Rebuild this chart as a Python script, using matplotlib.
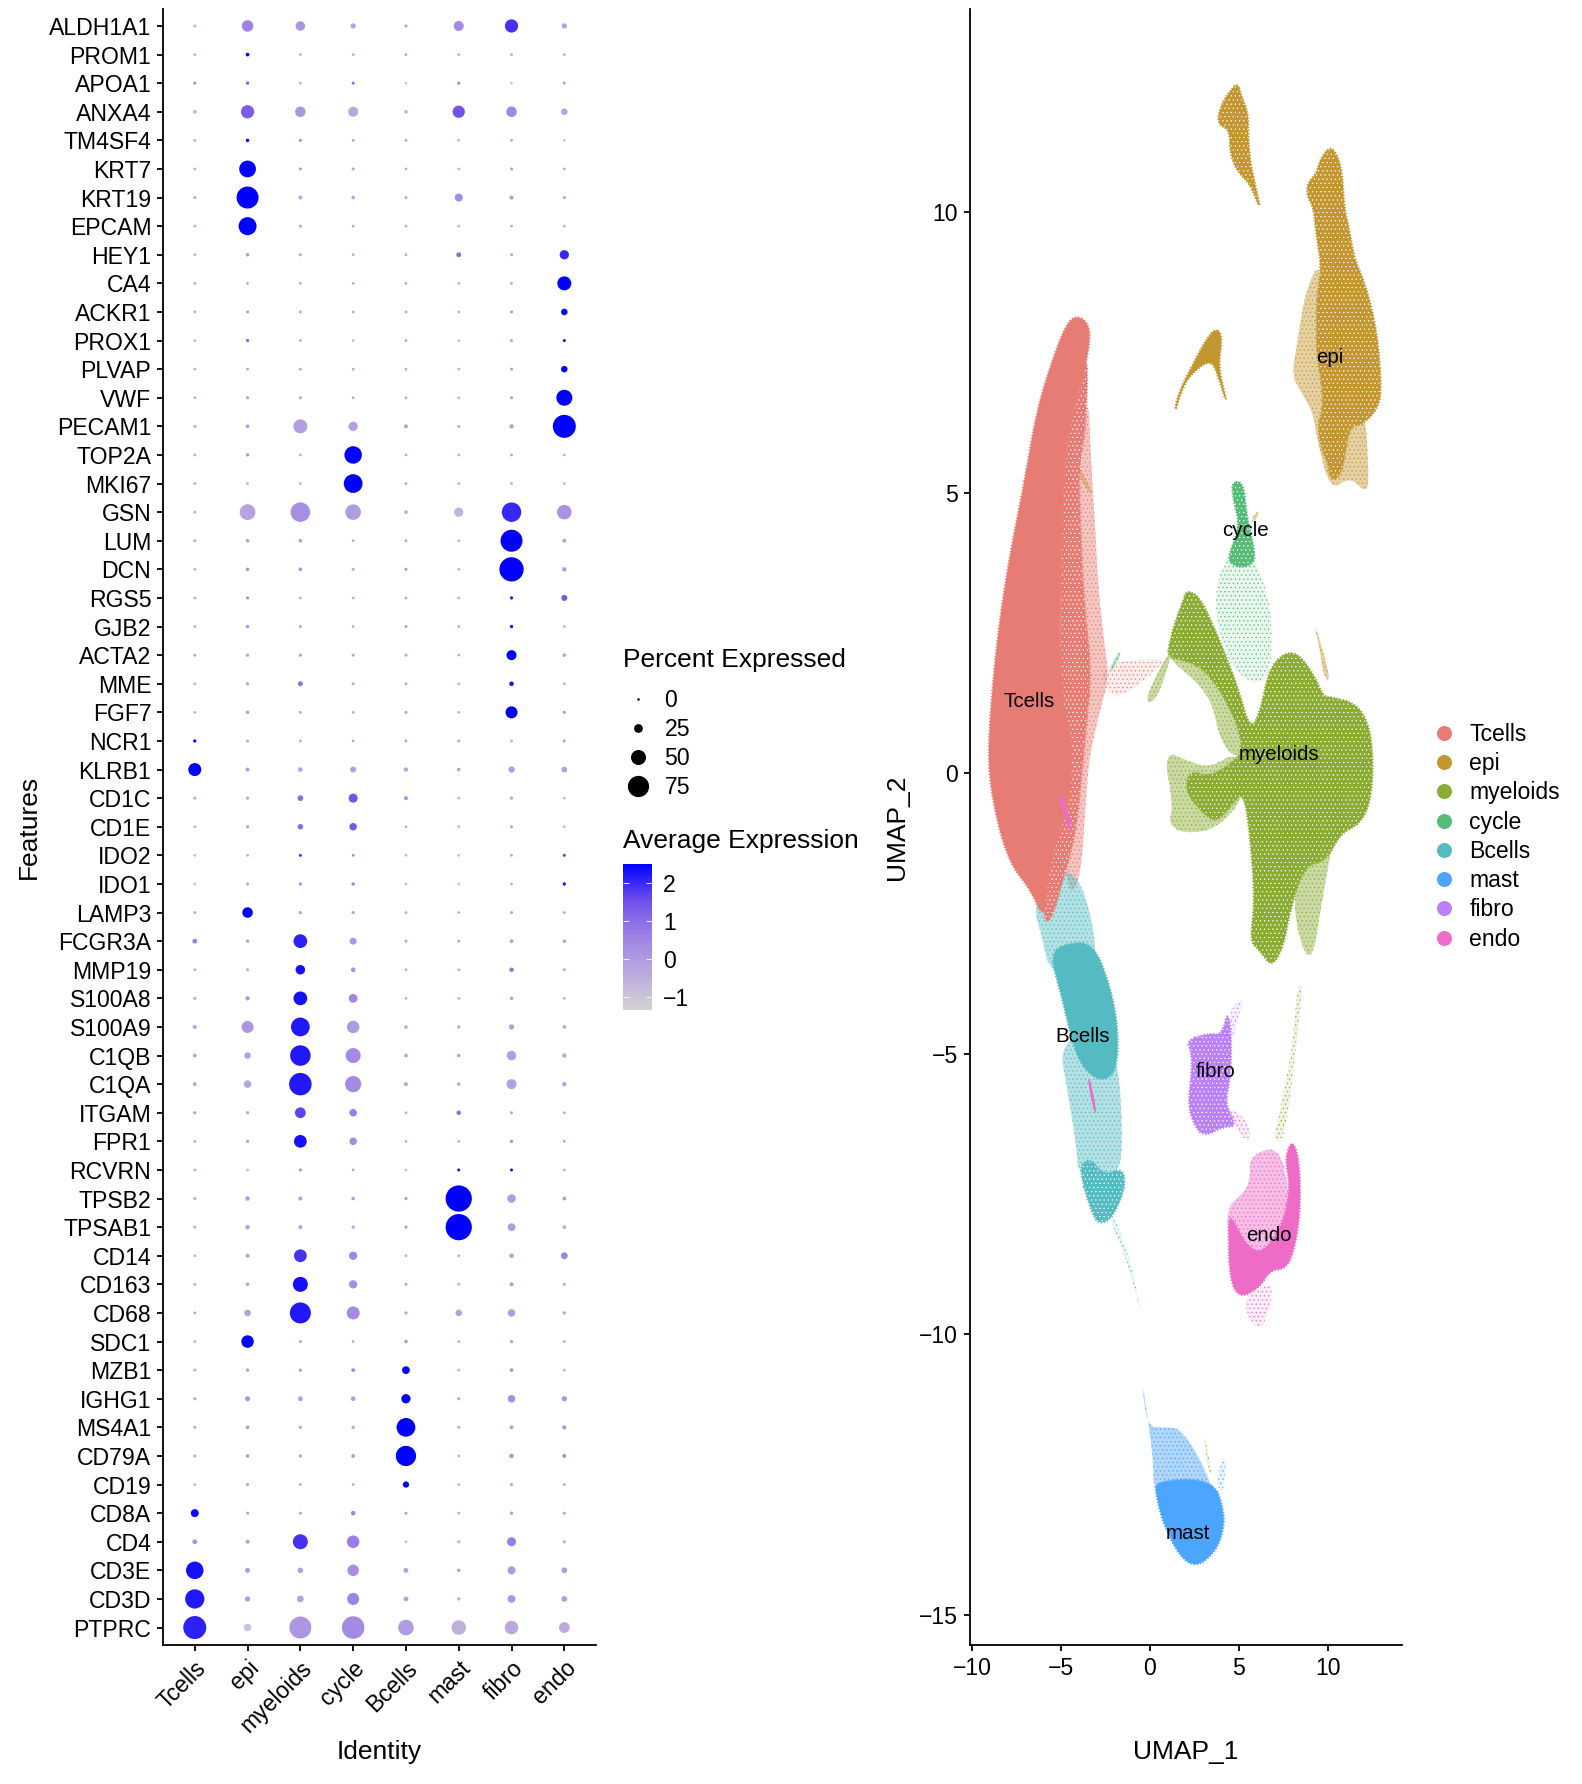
# Dot plot of marker genes per cell type next to the UMAP of the same clusters

import numpy as np
from matplotlib import pyplot as plt
from matplotlib.colors import LinearSegmentedColormap, Normalize
from matplotlib.cm import ScalarMappable
from matplotlib.lines import Line2D
from matplotlib.patches import Polygon

plt.rcParams['font.family'] = ['Liberation Sans', 'DejaVu Sans']
plt.rcParams['hatch.linewidth'] = 0.4

clusters = ['Tcells', 'epi', 'myeloids', 'cycle', 'Bcells', 'mast', 'fibro', 'endo']
clusterColors = ['#E67C73', '#C4962F', '#8AAC33', '#54BC77', '#55BBC2', '#4CA5FF', '#BB81F8', '#EE6BC8']

genes = ['ALDH1A1', 'PROM1', 'APOA1', 'ANXA4', 'TM4SF4', 'KRT7', 'KRT19', 'EPCAM', 'HEY1', 'CA4',
         'ACKR1', 'PROX1', 'PLVAP', 'VWF', 'PECAM1', 'TOP2A', 'MKI67', 'GSN', 'LUM', 'DCN',
         'RGS5', 'GJB2', 'ACTA2', 'MME', 'FGF7', 'NCR1', 'KLRB1', 'CD1C', 'CD1E', 'IDO2',
         'IDO1', 'LAMP3', 'FCGR3A', 'MMP19', 'S100A8', 'S100A9', 'C1QB', 'C1QA', 'ITGAM', 'FPR1',
         'RCVRN', 'TPSB2', 'TPSAB1', 'CD14', 'CD163', 'CD68', 'SDC1', 'MZB1', 'IGHG1', 'MS4A1',
         'CD79A', 'CD19', 'CD8A', 'CD4', 'CD3E', 'CD3D', 'PTPRC']

# Percent of cells expressing, one row per gene, columns in the order of clusters
pctExpressed = [
    [2, 36, 28, 11, 3, 30, 43, 11],
    [1, 5, 1, 1, 1, 1, 1, 1],
    [2, 3, 1, 2, 0.5, 2, 0.5, 1],
    [6, 43, 32, 30, 5, 39, 32, 16],
    [1, 4, 2, 1, 1, 1, 1, 0.5],
    [1, 57, 2, 2, 1, 1, 2, 1],
    [2, 78, 5, 4, 2, 22, 6, 3],
    [1, 62, 2, 1, 1, 1, 1, 1],
    [1, 4, 2, 1, 1, 9, 2, 27],
    [1, 1, 1, 1, 1, 1, 1, 46],
    [1, 2, 1, 1, 1, 1, 2, 16],
    [0.5, 3, 1, 0.5, 1, 0.5, 1, 2],
    [1, 1, 1, 1, 1, 1, 2, 16],
    [1, 2, 2, 1, 1, 1, 2, 54],
    [2, 5, 46, 27, 6, 2, 7, 82],
    [1, 3, 1, 60, 1, 1, 1, 1],
    [1, 1, 1, 65, 1, 1, 1, 0.5],
    [2, 53, 68, 52, 5, 27, 68, 48],
    [2, 4, 4, 1, 2, 1, 78, 5],
    [1, 4, 5, 2, 3, 1, 87, 7],
    [1, 2, 1, 1, 1, 1, 3, 14],
    [1, 4, 2, 1, 2, 1, 3, 1],
    [2, 3, 3, 2, 2, 1, 30, 4],
    [1, 3, 10, 2, 1, 1, 8, 1],
    [1, 4, 2, 1, 2, 1, 38, 3],
    [3, 2, 1, 1, 2, 2, 1, 2],
    [42, 6, 8, 14, 7, 4, 15, 13],
    [2, 3, 13, 26, 6, 1, 3, 1],
    [1, 3, 12, 20, 1, 1, 2, 1],
    [0.5, 1, 2, 1, 0.5, 0.5, 1, 2],
    [0.5, 2, 3, 4, 0.5, 0.5, 1, 3],
    [2, 32, 3, 3, 1, 1, 2, 1],
    [9, 4, 45, 18, 2, 2, 5, 4],
    [1, 2, 28, 8, 1, 1, 8, 2],
    [2, 7, 45, 25, 1, 1, 4, 1],
    [6, 38, 65, 40, 4, 3, 11, 4],
    [5, 16, 72, 50, 5, 4, 28, 7],
    [5, 20, 80, 55, 6, 4, 30, 7],
    [3, 3, 33, 20, 1, 8, 2, 1],
    [1, 3, 41, 20, 1, 1, 4, 1],
    [1, 0.5, 2, 1, 0.5, 2, 2, 1],
    [2, 8, 6, 4, 3, 95, 24, 5],
    [2, 7, 6, 3, 3, 95, 21, 4],
    [1, 6, 41, 23, 1, 1, 8, 17],
    [1, 4, 50, 23, 2, 1, 6, 2],
    [2, 16, 74, 42, 3, 16, 20, 3],
    [1, 40, 2, 1, 4, 1, 3, 1],
    [2, 3, 3, 5, 21, 1, 5, 1],
    [3, 10, 9, 9, 27, 3, 20, 11],
    [2, 4, 3, 3, 65, 2, 5, 6],
    [2, 4, 3, 5, 71, 1, 8, 6],
    [1, 2, 1, 1, 15, 1, 2, 1],
    [22, 2, 2, 8, 2, 1, 3, 2],
    [9, 6, 50, 40, 1, 2, 26, 3],
    [60, 10, 12, 36, 9, 4, 22, 13],
    [67, 11, 17, 38, 9, 3, 21, 13],
    [82, 20, 78, 80, 52, 48, 44, 33],
]

# Scaled average expression, same layout as pctExpressed
avgExpression = [
    [-.5, .6, .1, -.2, -.3, .4, 1.9, -.1],
    [-.4, 2.4, -.4, -.4, -.3, -.3, -.4, -.4],
    [.5, 1.3, -.5, 1.0, -.9, .6, -.9, .1],
    [-.8, 1.3, .1, -.3, -.7, 1.5, .5, -.2],
    [-.4, 2.4, .3, -.1, -.3, -.5, -.1, -.8],
    [-.3, 2.5, 0, -.1, -.3, -.5, 0, -.3],
    [-.3, 2.5, -.1, -.1, -.4, .4, 0, -.3],
    [-.3, 2.5, -.1, -.2, -.4, -.5, -.2, -.3],
    [-.3, 0, -.2, -.3, -.3, 1.1, -.2, 2.0],
    [-.3, -.2, -.2, -.3, -.3, -.4, -.2, 2.5],
    [-.3, -.1, -.1, -.3, -.3, -.4, 0, 2.5],
    [-.5, 1.1, -.2, -.6, -.2, -.6, .1, 2.4],
    [-.3, -.2, -.2, -.3, -.2, -.4, -.1, 2.5],
    [-.3, -.1, -.2, -.2, -.3, -.4, 0, 2.5],
    [-.2, -.1, -.1, -.1, -.2, -.4, 0, 2.5],
    [-.3, .1, -.4, 2.5, -.3, -.4, -.2, -.4],
    [-.3, -.4, -.4, 2.5, -.3, -.4, -.3, -.5],
    [-.6, -.2, .3, 0, -.5, -.6, 2.0, .2],
    [-.3, 0, 0, -.3, -.3, -.5, 2.5, 0],
    [-.3, .1, .1, -.2, -.1, -.4, 2.5, .1],
    [-.4, .4, -.3, -.3, -.2, -.4, 2.2, 1.4],
    [-.3, .1, -.1, -.3, -.1, -.3, 2.5, -.3],
    [-.1, -.1, -.1, -.1, -.2, -.4, 2.5, -.1],
    [-.4, -.1, .9, -.2, -.3, -.4, 2.3, -.3],
    [-.4, -.1, -.4, -.4, -.2, -.4, 2.5, -.1],
    [2.4, -.3, -.3, -.2, -.3, -.3, -.3, -.1],
    [2.5, -.1, -.1, -.1, -.1, -.1, 0, -.1],
    [-.4, -.3, 1.0, 1.5, .3, -.4, -.3, -.5],
    [-.4, -.2, 1.0, 1.4, -.4, -.5, -.2, -.5],
    [-.6, -.3, 1.9, .6, -.6, -.5, -.1, 1.7],
    [-.6, -.3, .2, .3, -.6, -.8, -.3, 2.3],
    [-.4, 2.5, -.1, -.2, -.4, -.4, -.1, -.3],
    [.7, -.3, 2.1, .1, -.3, -.3, -.1, -.1],
    [-.3, -.3, 2.3, .3, -.4, -.4, .8, -.3],
    [-.2, .1, 2.3, .5, -.4, -.4, -.2, -.3],
    [-.2, .1, 2.2, 0, -.2, -.3, -.1, -.1],
    [-.2, -.2, 2.2, .4, -.2, -.2, -.1, -.2],
    [-.2, -.3, 2.2, .4, -.3, -.2, -.1, -.2],
    [-.2, -.3, 1.7, .7, -.3, .9, -.2, -.3],
    [-.3, -.1, 2.3, .4, -.4, -.4, .1, -.2],
    [-.3, -.7, .3, -.2, -.7, 2.3, 2.3, -.4],
    [-.3, 0, -.1, -.1, -.1, 2.5, 0, 0],
    [-.3, 0, -.1, -.2, -.1, 2.5, 0, -.1],
    [-.5, -.2, 1.9, .5, -.5, -.4, -.1, .6],
    [-.3, -.1, 2.3, .3, -.2, -.4, 0, -.3],
    [-.3, -.1, 2.2, .4, -.2, -.1, 0, -.2],
    [-.3, 2.5, -.2, -.3, .1, -.3, -.1, -.3],
    [-.2, 0, 0, .5, 2.5, -.3, .2, -.3],
    [-.3, .1, 0, -.1, 2.5, -.2, .3, .1],
    [-.2, .1, -.2, -.2, 2.5, -.3, 0, .2],
    [-.2, .1, 0, 0, 2.5, -.4, .1, .3],
    [-.6, -.1, -.2, -.2, 2.5, -.3, -.2, -.2],
    [2.4, -.2, -.2, .6, -.2, -.3, 0, -.1],
    [.3, -.1, 1.9, .7, -.7, -.4, .7, -.4],
    [2.3, 0, -.1, .3, -.1, -.2, 0, 0],
    [2.2, 0, -.2, .6, -.1, -.2, .1, 0],
    [2.1, -.9, .1, .4, 0, -.5, -.3, -.4],
]

legendPcts = [0, 25, 50, 75]
colorTicks = [-1, 0, 1, 2]

# UMAP outlines, (UMAP_1, UMAP_2)
tcellsCore = [(-4.12, 8.16), (-3.4, 8.0), (-3.4, 7.6), (-3.9, 6.9), (-4.6, 6.1), (-4.9, 5.0), (-5.0, 3.5),
              (-5.1, 2.2), (-4.9, 1.3), (-4.4, .6), (-4.4, -.2), (-4.9, -.9), (-5.5, -1.4), (-5.9, -2.4),
              (-6.08, -2.52), (-6.74, -2.07), (-7.68, -1.69), (-8.24, -1.25), (-8.61, -.8), (-8.99, -.16),
              (-9.08, .53), (-8.8, 1.72), (-8.42, 2.78), (-7.86, 3.91), (-7.11, 5.1), (-6.36, 6.47),
              (-5.43, 7.42), (-4.68, 8.01)]
tcellsMid = [(-3.5, 7.5), (-3.6, 6.2), (-4.0, 5.4), (-3.9, 4.2), (-3.7, 3.0), (-3.3, 1.8), (-3.6, .8),
             (-3.9, -.2), (-4.2, -1.1), (-4.8, -1.8), (-5.6, -2.7), (-6.1, -2.5), (-5.1, 1.3), (-5.0, 3.5),
             (-4.9, 5.0), (-4.6, 6.1), (-3.9, 6.9)]
tcellsSparse = [(-3.5, 7.0), (-3.3, 5.5), (-3.1, 4.5), (-2.9, 3.3), (-2.6, 2.4), (-2.3, 1.7), (-2.9, 1.0),
                (-3.4, .3), (-3.6, -.5), (-3.9, -1.9), (-4.6, -2.2), (-4.9, -1.0), (-4.0, 1.0), (-4.2, 4.0)]
tcellsBridge = [(-2.8, 1.95), (.75, 2.07), (.57, 1.89), (-1.5, 1.36), (-2.43, 1.42)]

epiCore = [(10.11, 11.18), (10.58, 10.99), (10.82, 10.63), (10.90, 10.10), (11.24, 9.62), (11.46, 9.20),
           (11.99, 8.79), (12.45, 8.31), (12.83, 7.66), (13.01, 6.77), (12.73, 6.47), (11.99, 6.23),
           (11.24, 6.17), (11.05, 5.88), (10.77, 5.34), (10.21, 5.19), (9.93, 5.58), (9.55, 5.88),
           (9.46, 6.23), (9.74, 6.53), (9.64, 7.0), (9.36, 7.48), (9.36, 8.43), (9.64, 9.03), (9.36, 9.56),
           (9.18, 10.10), (8.84, 10.27), (8.84, 10.51), (9.36, 10.69), (9.55, 10.93)]
epiSparse = [(9.6, 9.2), (8.71, 8.55), (8.33, 7.78), (7.96, 7.09), (8.43, 6.83), (9.18, 6.41), (9.36, 5.99),
             (10.11, 5.03), (11.24, 5.28), (12.08, 5.01), (12.32, 5.17), (12.1, 6.5), (11.24, 6.5), (10.0, 7.5)]
epiTop = [(4.91, 12.31), (5.15, 12.06), (5.52, 11.76), (5.52, 11.34), (5.62, 10.93), (5.81, 10.63), (6.27, 9.98),
          (5.62, 10.51), (4.91, 10.72), (4.49, 11.05), (4.49, 11.46), (3.75, 11.58), (4.03, 11.94), (4.49, 12.15)]
epiArc = [(3.65, 7.93), (4.08, 7.81), (3.84, 7.24), (4.21, 6.77), (4.27, 6.62), (3.84, 7.07), (3.46, 7.36),
          (2.62, 7.21), (1.87, 6.92), (1.35, 6.38), (1.59, 6.77), (2.43, 7.30), (3.09, 7.69)]
epiSliver = [(9.18, 2.72), (9.84, 2.07), (10.12, 1.62), (9.74, 1.74), (9.55, 2.19)]
epiFleckCycle = [(5.72, 4.54), (6.09, 4.69), (6.09, 4.6), (5.8, 4.45)]
epiFleckT = [(-4.3, 5.64), (-3.27, 5.04), (-3.35, 4.95), (-4.35, 5.5)]

myeloidsCore = [(1.88, 3.08), (2.06, 3.26), (2.81, 3.14), (3.75, 2.49), (4.87, 1.6), (5.62, .77), (6.18, 1.06),
                (6.75, 1.94), (8.06, 2.22), (9.18, 1.78), (9.74, 1.36), (10.12, 1.36), (11.61, 1.24),
                (12.36, .82), (12.55, .11), (12.36, -.54), (11.8, -.9), (10.68, -1.08), (9.93, -1.55),
                (8.62, -1.67), (7.87, -2.45), (7.49, -3.1), (6.84, -3.46), (6.18, -3.16), (5.62, -3.0),
                (5.9, -2.27), (5.62, -1.08), (5.25, -.31), (4.5, -.6), (3.75, -.87), (3.0, -.72), (1.97, -.31),
                (2.25, .05), (3.37, -.07), (4.87, .23), (5.25, .53), (4.5, 1.18), (3.19, 1.83), (1.97, 2.01),
                (.94, 2.07), (1.31, 2.6)]
myeloidsWing = [(.75, .41), (1.31, -.6), (1.03, -.9), (1.88, -1.08), (3.75, -1.0), (5.4, -.4), (5.0, .4),
                (3.37, .1), (2.25, .2)]
myeloidsBand = [(1.0, 2.3), (.94, 2.07), (3.37, 1.42), (3.94, .58), (4.87, .23), (5.4, .6), (4.8, 1.5), (3.3, 2.2)]
myeloidsArm = [(-.37, 1.24), (.75, 2.01), (1.31, 2.2), (.4, 1.3)]
myeloidsLower = [(7.87, -2.3), (9.0, -3.57), (9.74, -2.15), (10.5, -.8), (9, -.8)]
myeloidsFiber = [(8.61, -3.69), (8.24, -4.76), (7.87, -5.83), (7.49, -6.54), (6.93, -6.54), (7.4, -5.89),
                 (8.05, -4.76), (8.24, -3.87)]
myeloidsMast = [(2.99, -11.63), (3.56, -12.6), (3.2, -12.4)]

cycleCore = [(4.59, 5.19), (5.25, 5.19), (5.43, 4.57), (6.0, 3.8), (5.43, 3.68), (4.87, 3.68), (4.31, 3.8),
             (5.06, 4.39), (4.69, 4.87)]
cycleSparse = [(4.9, 4.2), (3.4, 3.2), (4.5, 1.8), (6.75, 1.5), (6.9, 3.0), (5.6, 4.0)]
cycleFleck = [(-2.24, 1.89), (-1.68, 2.19), (-1.65, 2.1), (-2.15, 1.8)]

bcellsCore = [(-5.62, -3.22), (-4.68, -3.03), (-3.18, -3.03), (-2.24, -3.79), (-1.78, -4.56), (-1.87, -5.32),
              (-2.81, -5.51), (-3.93, -5.19), (-4.49, -4.62), (-4.96, -3.98)]
bcellsUpper = [(-6.55, -2.39), (-5.62, -1.76), (-4.12, -1.76), (-3.18, -2.65), (-3.0, -3.6), (-5.6, -3.6),
               (-6.08, -2.9)]
bcellsMiddle = [(-5.05, -4.94), (-4.68, -5.57), (-4.12, -6.66), (-4.02, -7.2), (-1.87, -7.2), (-1.5, -6.66),
                (-1.8, -5.0), (-2.8, -5.0), (-3.9, -4.6)]
bcellsBottom = [(-4.02, -7.04), (-3.18, -7.93), (-2.71, -8.03), (-2.15, -7.93), (-1.4, -7.42), (-1.5, -7.04),
                (-2.62, -7.17), (-3.37, -6.85)]
bcellsTail = [(-2.3, -7.9), (-1.3, -8.7), (-.6, -9.5), (-.5, -9.6), (-1.1, -8.7), (-2.0, -7.9)]

mastCore = [(.28, -12.61), (3.56, -12.58), (4.21, -13.2), (4.03, -13.62), (3.56, -13.91), (2.62, -14.15),
            (1.68, -13.97), (.75, -13.38), (.37, -12.9)]
mastSparse = [(-.47, -10.76), (.19, -12.19), (.2, -12.9), (3.7, -12.9), (2.8, -12.2), (1.68, -11.68),
              (.94, -11.66), (0, -11.66), (-.28, -11.36)]
mastEdge = [(4.31, -12.07), (4.12, -12.9), (3.65, -12.61)]

fibroCore = [(2.06, -4.76), (3.28, -4.64), (4.03, -4.67), (4.4, -4.22), (4.59, -4.82), (4.49, -5.47), (4.21, -5.89),
             (4.87, -6.3), (4.12, -6.3), (3.0, -6.48), (2.43, -6.24), (2.15, -5.89), (2.34, -5.35), (2.34, -5.0)]
fibroStreak = [(4.4, -4.22), (5.34, -3.99), (4.96, -4.34), (4.59, -4.82)]

endoCore = [(8.05, -6.51), (8.43, -7.02), (8.43, -7.85), (8.15, -8.44), (7.68, -8.83), (6.74, -8.86), (6.18, -9.16),
            (5.06, -9.36), (4.49, -9.04), (4.4, -8.15), (4.49, -7.85), (5.43, -8.44), (6.37, -8.56), (7.49, -8.03),
            (7.87, -7.37), (7.58, -6.84)]
endoSparse = [(5.62, -6.78), (7.58, -6.66), (7.9, -8.4), (5.5, -8.9), (4.5, -8.5), (4.27, -7.76), (5.24, -7.49),
              (5.62, -7.26)]
endoBottom = [(5.24, -9.39), (5.62, -9.78), (6.37, -9.93), (7.02, -9.1), (6.18, -9.16)]
endoTail = [(4.2, -5.9), (5.6, -6.2), (5.6, -6.6), (4.9, -6.4)]
endoFleckT = [(-5.0, -.3), (-4.4, -.9), (-4.5, -1.1), (-5.1, -.5)]
endoFleckB = [(-3.4, -5.4), (-3.0, -6.0), (-3.1, -6.1), (-3.5, -5.5)]

# (outline, cluster index), drawn in this order
umapFaint = [(tcellsBridge, 0), (cycleSparse, 3), (myeloidsFiber, 2), (myeloidsMast, 2), (bcellsTail, 4),
             (mastEdge, 5), (endoBottom, 7), (endoTail, 7), (fibroStreak, 6)]
umapSparse = [(tcellsSparse, 0), (epiSparse, 1), (epiSliver, 1), (epiFleckCycle, 1), (epiFleckT, 1),
              (myeloidsWing, 2), (myeloidsBand, 2), (myeloidsArm, 2), (myeloidsLower, 2), (cycleFleck, 3),
              (bcellsUpper, 4), (bcellsMiddle, 4), (mastSparse, 5), (endoSparse, 7)]
umapMid = [(tcellsMid, 0), (myeloidsCore, 2), (epiCore, 1), (epiTop, 1), (cycleCore, 3), (fibroCore, 6),
           (bcellsBottom, 4)]
umapCore = [(tcellsCore, 0), (epiArc, 1), (bcellsCore, 4), (mastCore, 5), (endoCore, 7)]
umapFlecks = [(endoFleckT, 7), (endoFleckB, 7)]
clusterLabelX = [-6.8, 10.12, 7.24, 5.39, -3.8, 2.15, 3.68, 6.68]
clusterLabelY = [1.28, 7.4, .34, 4.32, -4.7, -13.55, -5.31, -8.24]

width, height = 1582, 1784


def axesAt(left, top, right, bottom):
    # Axes from pixel positions of the reference
    return fig.add_axes([left / width, 1 - bottom / height, (right - left) / width, (bottom - top) / height])


def dotDiameter(pct):
    # Marker diameter in points, radius grows linearly with percent
    return (2.5 + 0.25 * np.asarray(pct, dtype=float)) * 0.72


def rounded(outline):
    # Two rounds of corner cutting so the blobs do not look like polygons
    pts = np.array(outline)
    for i in range(2):
        nxt = np.roll(pts, -1, axis=0)
        pts = np.column_stack((0.75 * pts + 0.25 * nxt, 0.25 * pts + 0.75 * nxt)).reshape(-1, 2)
    return pts


fig = plt.figure(figsize=(width / 100, height / 100), dpi=100)

# Dot plot
ax = axesAt(163.1, 8.8, 596, 1644.7)
expressionCmap = LinearSegmentedColormap.from_list(
    'expr', ['#D3D3D3', '#BBA9DF', '#9F83E4', '#7050EB', '#0000FF'])
expressionNorm = Normalize(-1.33, 2.49)

xIdx, yIdx = np.meshgrid(np.arange(len(clusters)), np.arange(len(genes)))
ax.scatter(xIdx.ravel(), yIdx.ravel(), s=dotDiameter(pctExpressed).ravel() ** 2,
           c=np.array(avgExpression).ravel(), cmap=expressionCmap, norm=expressionNorm, linewidths=0)
ax.set_xlim(-0.6, len(clusters) - 0.4)
ax.set_ylim(len(genes) - 0.4, -0.6)
ax.set_xticks(range(len(clusters)))
ax.set_xticklabels(clusters, rotation=45, ha='right', va='top', rotation_mode='anchor')
ax.set_yticks(range(len(genes)))
ax.set_yticklabels(genes)
ax.set_xlabel('Identity', fontsize=19, va='center')
ax.xaxis.set_label_coords(0.5, -0.0654)
ax.set_ylabel('Features', fontsize=19, va='center')
ax.yaxis.set_label_coords((28.5 - 163.1) / (596 - 163.1), 0.5)

# UMAP: very sparse, speckled, grainy and packed areas from back to front
ax2 = axesAt(969.5, 9, 1402, 1645)
for outline, idx in umapFaint:
    ax2.add_patch(Polygon(rounded(outline), closed=True, facecolor=clusterColors[idx] + '20',
                          edgecolor=clusterColors[idx], hatch='....', linewidth=0))
for outline, idx in umapSparse:
    ax2.add_patch(Polygon(rounded(outline), closed=True, facecolor=clusterColors[idx] + '70',
                          edgecolor=clusterColors[idx], hatch='....', linewidth=0))
for outline, idx in umapMid:
    ax2.add_patch(Polygon(rounded(outline), closed=True, facecolor=clusterColors[idx], edgecolor='white',
                          hatch='....', linewidth=0))
for outline, idx in umapCore + umapFlecks:
    ax2.add_patch(Polygon(rounded(outline), closed=True, facecolor=clusterColors[idx], edgecolor='none', linewidth=0))
# Grainy rim around the packed areas
for outline, idx in umapMid + umapCore:
    ax2.add_patch(Polygon(rounded(outline), closed=True, fill=False, edgecolor=clusterColors[idx],
                          linewidth=1.6, linestyle=(0, (0.6, 0.8))))
for i in range(len(clusters)):
    ax2.text(clusterLabelX[i], clusterLabelY[i], clusters[i], fontsize=14.8, ha='center', va='center')
ax2.set_xlim(-10.14, 14.16)
ax2.set_ylim(-15.54, 13.62)
ax2.set_xticks([-10, -5, 0, 5, 10])
ax2.set_yticks([-15, -10, -5, 0, 5, 10])
ax2.set_xlabel('UMAP_1', fontsize=19, va='center')
ax2.xaxis.set_label_coords(0.5, -0.0654)
ax2.set_ylabel('UMAP_2', fontsize=19, va='center')
ax2.yaxis.set_label_coords((897 - 969.5) / (1402 - 969.5), 0.5)

for a in (ax, ax2):
    a.spines['top'].set_visible(False)
    a.spines['right'].set_visible(False)
    a.spines['left'].set_linewidth(1.3)
    a.spines['bottom'].set_linewidth(1.3)
    a.tick_params(labelsize=16.6, length=4.5, width=1.3, pad=4)

# Legends
pctHandles = [Line2D([], [], linestyle='none', marker='o', color='black', markeredgewidth=0,
                     markersize=dotDiameter(p)) for p in legendPcts]
fig.legend(pctHandles, [str(p) for p in legendPcts], fontsize=16.6, frameon=False, loc='upper left',
           bbox_to_anchor=(623 / width, 1 - 688.8 / height), borderpad=0, borderaxespad=0,
           handlelength=1.28, handletextpad=0.52, labelspacing=0.27)
fig.text(623 / width, 1 - 660 / height, 'Percent Expressed', fontsize=19, ha='left', va='center')

cax = axesAt(623, 864, 652, 1010)
cbar = fig.colorbar(ScalarMappable(norm=expressionNorm, cmap=expressionCmap), cax=cax, ticks=colorTicks)
cbar.outline.set_visible(False)
cbar.ax.tick_params(length=0, labelsize=16.6, pad=8)
cbar.ax.hlines(colorTicks, 0, 0.2, colors='white', linewidth=0.6, transform=cbar.ax.get_yaxis_transform())
cbar.ax.hlines(colorTicks, 0.8, 1, colors='white', linewidth=0.6, transform=cbar.ax.get_yaxis_transform())
fig.text(623 / width, 1 - 841 / height, 'Average Expression', fontsize=19, ha='left', va='center')

clusterHandles = [Line2D([], [], linestyle='none', marker='o', color=c, markeredgewidth=0, markersize=10.8)
                  for c in clusterColors]
fig.legend(clusterHandles, clusters, fontsize=16.6, frameon=False, loc='upper left',
           bbox_to_anchor=(1432 / width, 1 - 723 / height), borderpad=0, borderaxespad=0, handlelength=1,
           handletextpad=0.62, labelspacing=0.27)

plt.savefig('out.png', dpi=100)
